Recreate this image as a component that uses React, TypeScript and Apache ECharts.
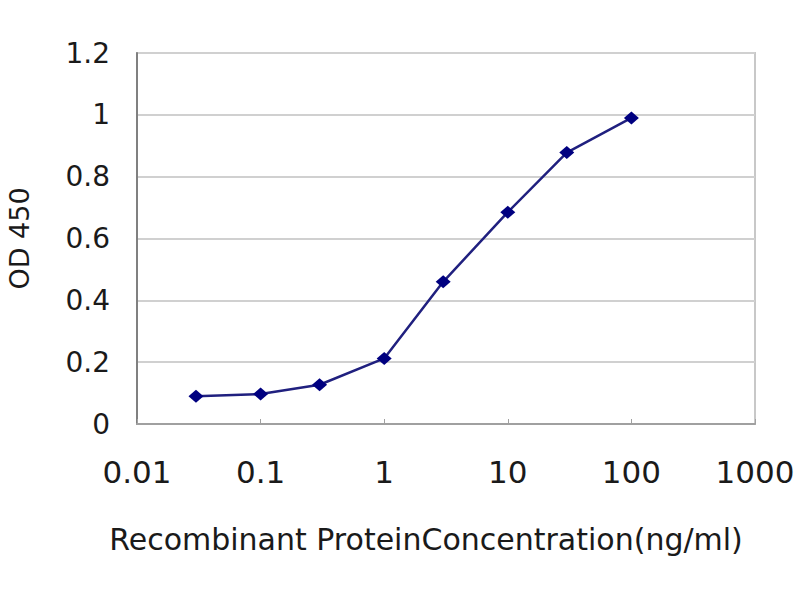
import React, { useEffect, useRef } from "react";
import * as echarts from "echarts";

const concentrations = [0.03, 0.1, 0.3, 1, 3, 10, 30, 100];
const odValues = [0.09, 0.097, 0.127, 0.212, 0.46, 0.685, 0.878, 0.99];
const xTickLabels = ["0.01", "0.1", "1", "10", "100", "1000"];
const yTickLabels = ["0", "0.2", "0.4", "0.6", "0.8", "1", "1.2"];
const xAxisName = "Recombinant ProteinConcentration(ng/ml)";
const yAxisName = "OD 450";

const FONT = "DejaVu Sans";

export default function App() {
  const ref = useRef<HTMLDivElement>(null);
  useEffect(() => {
    if (!ref.current) return;
    const chart = echarts.init(ref.current, undefined, { renderer: "svg" });
    chart.setOption({
      animation: false,
      backgroundColor: "#ffffff",
      grid: {
        left: 137,
        right: 45,
        top: 53,
        bottom: 176,
        show: true,
        borderColor: "#c8c8c8",
        borderWidth: 2,
        outerBoundsMode: "none",
        containLabel: false,
      },
      xAxis: {
        type: "log",
        logBase: 10,
        min: 0.01,
        max: 1000,
        name: xAxisName,
        nameLocation: "middle",
        nameGap: 100,
        nameTextStyle: {
          fontFamily: FONT,
          fontSize: 30,
          color: "#1a1a1a",
          padding: [0, 40, 0, 0],
        },
        axisLine: { show: true, lineStyle: { color: "#a0a0a0", width: 2 } },
        axisTick: { show: true, inside: true, length: 5, lineStyle: { color: "#a0a0a0", width: 1 } },
        minorTick: { show: false },
        splitLine: { show: false },
        axisLabel: {
          margin: 32,
          fontFamily: FONT,
          fontSize: 31,
          color: "#1a1a1a",
          formatter: (v: number) => xTickLabels[Math.round(Math.log10(v)) + 2] ?? "",
        },
      },
      yAxis: {
        type: "value",
        min: 0,
        max: 1.2,
        interval: 0.2,
        name: yAxisName,
        nameLocation: "middle",
        nameGap: 104,
        nameRotate: 90,
        nameTextStyle: { fontFamily: FONT, fontSize: 27, color: "#1a1a1a" },
        axisLine: { show: true, lineStyle: { color: "#808080", width: 2 } },
        axisTick: { show: false },
        splitLine: { show: true, lineStyle: { color: "#d0d0d0", width: 2 } },
        axisLabel: {
          margin: 27,
          fontFamily: FONT,
          fontSize: 28,
          color: "#1a1a1a",
          formatter: (v: number) => yTickLabels[Math.round(v / 0.2)] ?? "",
        },
      },
      series: [
        {
          type: "line",
          data: concentrations.map((c, i) => [c, odValues[i]]),
          symbol: "diamond",
          symbolSize: [15, 13],
          itemStyle: { color: "#000080" },
          lineStyle: { color: "#20207f", width: 2.5 },
        },
      ],
    });
    return () => chart.dispose();
  }, []);
  return (
    <div
      ref={ref}
      style={{ position: "fixed", left: 0, top: 0, width: 800, height: 600 }}
    />
  );
}
